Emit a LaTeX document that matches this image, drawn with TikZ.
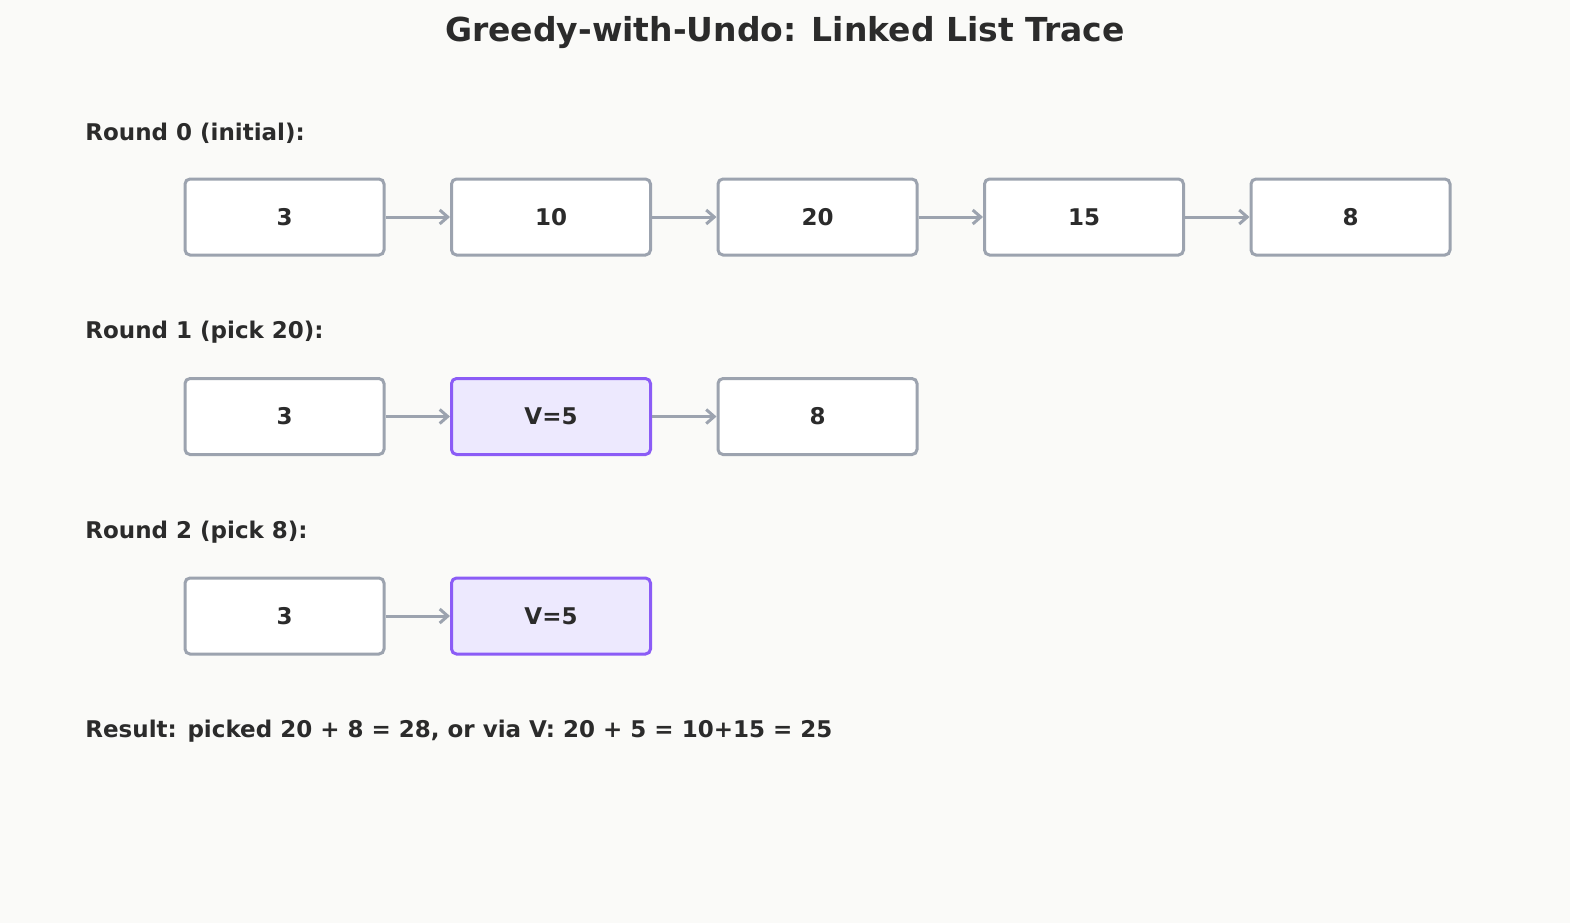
\documentclass[tikz,border=0pt]{standalone}
\usepackage{fontspec}
\setmainfont{DejaVu Sans}
\usetikzlibrary{arrows.meta}
\definecolor{bg}{HTML}{FAFAF8}
\definecolor{txt}{HTML}{2B2B2B}
\definecolor{gr}{HTML}{9CA3AF}
\definecolor{pu}{HTML}{8B5CF6}
\definecolor{puf}{HTML}{EDE9FE}
\begin{document}
\begin{tikzpicture}[x=0.5pt,y=-0.5pt,
 box/.style={draw=gr,fill=white,line width=1.5pt,rounded corners=2.5pt,minimum width=99.5pt,minimum height=38pt,inner sep=0pt,font=\fontsize{11.5}{14}\selectfont\bfseries,text=txt},
 vbox/.style={box,draw=pu,fill=puf},
 lab/.style={anchor=west,font=\fontsize{11.5}{14}\selectfont\bfseries,text=txt,inner sep=0pt},
 arr/.style={draw=gr,line width=1.5pt,-{Straight Barb[length=4pt,width=7pt]}}]
\fill[bg] (0,0) rectangle (1570,923);
\useasboundingbox (0,0) rectangle (1570,923);
\node[font=\fontsize{16.5}{20}\selectfont\bfseries,text=txt] (title) at (785,33) {Greedy-with-Undo: Linked List Trace};
\node[lab] (l0) at (85,133) {Round 0 (initial):};
\node[lab] (l1) at (85,332) {Round 1 (pick 20):};
\node[lab] (l2) at (85,532) {Round 2 (pick 8):};
\node[lab] (res) at (85,731) {Result: picked 20 + 8 = 28, or via V: 20 + 5 = 10+15 = 25};
\node[box] (a1) at (284.5,217) {3};
\node[box] (a2) at (551,217) {10};
\node[box] (a3) at (817.5,217) {20};
\node[box] (a4) at (1084,217) {15};
\node[box] (a5) at (1350.5,217) {8};
\draw[arr] (a1) -- (a2); \draw[arr] (a2) -- (a3); \draw[arr] (a3) -- (a4); \draw[arr] (a4) -- (a5);
\node[box] (b1) at (284.5,416.5) {3};
\node[vbox] (b2) at (551,416.5) {V=5};
\node[box] (b3) at (817.5,416.5) {8};
\draw[arr] (b1) -- (b2); \draw[arr] (b2) -- (b3);
\node[box] (c1) at (284.5,616) {3};
\node[vbox] (c2) at (551,616) {V=5};
\draw[arr] (c1) -- (c2);
\end{tikzpicture}
\end{document}
